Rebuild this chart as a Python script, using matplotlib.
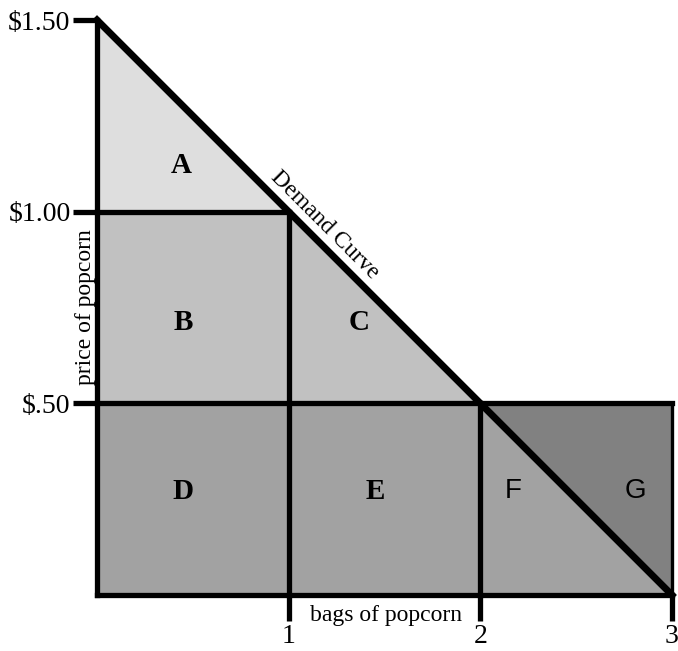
import matplotlib.pyplot as plt

# demand curve points: bags of popcorn vs price
quantity = [0, 1, 2, 3]
price = [1.5, 1.0, 0.5, 0.0]

x_ticks = [1, 2, 3]
x_tick_labels = ['1', '2', '3']
y_ticks = [0.5, 1.0, 1.5]
y_tick_labels = [r'\$.50', r'\$1.00', r'\$1.50']

region_names = ['A', 'B', 'C', 'D', 'E', 'F', 'G']
region_colors = ['#dedede', '#c1c1c1', '#c1c1c1', '#a2a2a2', '#a2a2a2', '#a2a2a2', '#818181']

q0, q1, q2, q3 = quantity
p0, p1, p2, p3 = price
regions = [
    ([q0, q0, q1], [p1, p0, p1]),               # A
    ([q0, q1, q1, q0], [p2, p2, p1, p1]),       # B
    ([q1, q1, q2], [p1, p2, p2]),               # C
    ([q0, q1, q1, q0], [p3, p3, p2, p2]),       # D
    ([q1, q2, q2, q1], [p3, p3, p2, p2]),       # E
    ([q2, q2, q3], [p2, p3, p3]),               # F
    ([q2, q3, q3], [p2, p2, p3]),               # G
]
label_pos = [(0.44, 1.12), (0.45, 0.71), (1.37, 0.71), (0.45, 0.27),
             (1.45, 0.27), (2.17, 0.27), (2.81, 0.27)]

plt.rcParams['font.family'] = ['Liberation Serif', 'DejaVu Serif']

fig = plt.figure(figsize=(6.78, 6.51), dpi=100)
ax = fig.add_axes([97 / 678, 56 / 651, 575 / 678, 575 / 651])
ax.set_xlim(0, 3)
ax.set_ylim(0, 1.5)

for (xs, ys), c in zip(regions, region_colors):
    ax.fill(xs, ys, color=c, lw=0)

lw = 3.8
# inner dividing lines
ax.plot([q0, q1], [p1, p1], color='black', lw=lw, clip_on=False)
ax.plot([q0, q3], [p2, p2], color='black', lw=lw, clip_on=False)
ax.plot([q1, q1], [p3, p1], color='black', lw=lw, clip_on=False)
ax.plot([q2, q2], [p3, p2], color='black', lw=lw, clip_on=False)
ax.plot([q3, q3], [p3, p2], color='black', lw=2.4, clip_on=False)
# demand curve
ax.plot(quantity, price, color='black', lw=5, clip_on=False, zorder=5)

for s in ['top', 'right']:
    ax.spines[s].set_visible(False)
for s in ['left', 'bottom']:
    ax.spines[s].set_linewidth(lw)
    ax.spines[s].set_zorder(6)

ax.set_xticks(x_ticks)
ax.set_xticklabels(x_tick_labels, fontsize=20)
ax.set_yticks(y_ticks)
ax.set_yticklabels(y_tick_labels, fontsize=20)
ax.tick_params(axis='x', length=19, width=lw, pad=2)
ax.tick_params(axis='y', length=17, width=lw, pad=2)

ax.text(1.51, -0.053, 'bags of popcorn', fontsize=17, ha='center', va='center')
ax.text(-0.06, 0.75, 'price of popcorn', fontsize=17, ha='center', va='center',
        rotation=90)
ax.text(1.19, 0.965, 'Demand Curve', fontsize=17, ha='center', va='center',
        rotation=-45, rotation_mode='anchor')

for name, (x, y) in zip(region_names, label_pos):
    if name in ('F', 'G'):
        ax.text(x, y, name, fontsize=20, ha='center', va='center',
                family=['Liberation Sans', 'DejaVu Sans'])
    else:
        ax.text(x, y, name, fontsize=21, ha='center', va='center', weight='bold')

fig.savefig('out.png', dpi=100)
